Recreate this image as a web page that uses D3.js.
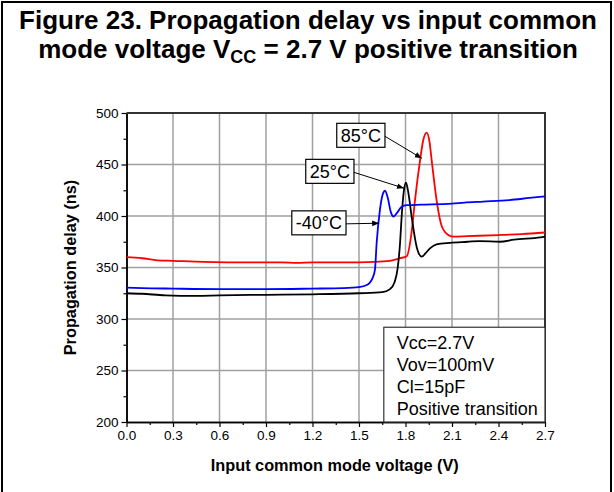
<!DOCTYPE html>
<html>
<head>
<meta charset="utf-8">
<script src="https://cdn.jsdelivr.net/npm/d3@7"></script>
<style>
  body { margin: 0; background: #fff; }
  text { font-family: "Liberation Sans", Arial, sans-serif; }
</style>
</head>
<body>
<svg id="chart" width="614" height="492"></svg>
<script>
// curves: [input common mode voltage (V), propagation delay (ns)]
const red85 = [
  [0.0, 360], [0.1, 359], [0.2, 357], [0.3, 356.5], [0.5, 355.5], [0.8, 355], [1.0, 355],
  [1.1, 354.5], [1.2, 355], [1.4, 355], [1.6, 355.5], [1.7, 356.5], [1.765, 359],
  [1.808, 361], [1.84, 385], [1.861, 415], [1.894, 454], [1.915, 474], [1.937, 481],
  [1.955, 472], [1.969, 454], [2.001, 415], [2.034, 390], [2.076, 381.5], [2.106, 380],
  [2.2, 380.5], [2.4, 381.5], [2.55, 382.5], [2.7, 384]
];
const blue40 = [
  [0.0, 330.5], [0.1, 330], [0.3, 329.5], [0.6, 329], [0.9, 329], [1.2, 329.5], [1.4, 330],
  [1.5, 331], [1.55, 333], [1.588, 340], [1.603, 348], [1.614, 374], [1.635, 406],
  [1.655, 422], [1.668, 424.5], [1.685, 418], [1.705, 404], [1.722, 399.5], [1.745, 403],
  [1.775, 409], [1.808, 410.5], [1.9, 411], [2.1, 412], [2.18, 413], [2.3, 414],
  [2.47, 415.5], [2.6, 417.5], [2.7, 419]
];
const black25 = [
  [0.0, 325], [0.1, 324.5], [0.25, 323], [0.45, 322.5], [0.6, 323], [0.9, 323.5],
  [1.2, 324], [1.5, 325], [1.65, 326], [1.7, 329], [1.73, 336], [1.75, 350], [1.765, 374],
  [1.775, 399], [1.79, 425], [1.803, 432.5], [1.82, 421], [1.84, 399], [1.872, 370],
  [1.905, 360.5], [1.93, 364], [1.958, 368.6], [2.0, 372.5], [2.087, 374], [2.2, 375],
  [2.28, 375.7], [2.41, 375], [2.5, 377], [2.67, 379.3], [2.7, 380]
];

const series = [
  {name: "85°C", values: red85, color: "#ff0000"},
  {name: "25°C", values: black25, color: "#000000"},
  {name: "-40°C", values: blue40, color: "#0000ff"}
];

// callout labels: box anchor in data units, arrow tip in data units
const callouts = [
  {text: "85°C", box: [1.35, 490], tip: [1.905, 456]},
  {text: "25°C", box: [1.15, 455], tip: [1.79, 427]},
  {text: "-40°C", box: [1.06, 405], tip: [1.63, 393]}
];

const conditions = ["Vcc=2.7V", "Vov=100mV", "Cl=15pF", "Positive transition"];

const xTicks = d3.range(0, 2.71, 0.3);
const yTicks = d3.range(200, 501, 50);

const svg = d3.select("#chart");
const margin = {top: 113, right: 69, bottom: 70, left: 126.5};
const W = 614, H = 492;
const width = W - margin.left - margin.right,
      height = H - margin.top - margin.bottom;

// figure frame
svg.append("path")
  .attr("d", `M2,${H + 2} V2 H611 V${H + 2}`)
  .attr("fill", "none").attr("stroke", "#000").attr("stroke-width", 2);

// title
const title = svg.append("g").attr("font-weight", "bold").attr("font-size", 26)
  .attr("text-anchor", "middle");
title.append("text").attr("x", 308).attr("y", 29)
  .text("Figure 23. Propagation delay vs input common");
const t2 = title.append("text").attr("x", 308).attr("y", 58);
t2.append("tspan").text("mode voltage V");
t2.append("tspan").attr("font-size", 18).attr("dy", 5).text("CC");
t2.append("tspan").attr("dy", -5).text(" = 2.7 V positive transition");

const x = d3.scaleLinear().domain([0, 2.7]).range([0, width]);
const y = d3.scaleLinear().domain([200, 500]).range([height, 0]);

const g = svg.append("g").attr("transform", `translate(${margin.left},${margin.top})`);

// grid
g.append("g").selectAll("line").data(xTicks.slice(1, -1)).join("line")
  .attr("x1", d => x(d)).attr("x2", d => x(d)).attr("y1", 0).attr("y2", height)
  .attr("stroke", "#a0a0a0").attr("stroke-width", 1.5);
g.append("g").selectAll("line").data(yTicks.slice(1, -1)).join("line")
  .attr("y1", d => y(d)).attr("y2", d => y(d)).attr("x1", 0).attr("x2", width)
  .attr("stroke", "#a0a0a0").attr("stroke-width", 1.5);

// axes
const xAxis = d3.axisBottom(x).tickValues(xTicks).tickFormat(d3.format(".1f"))
  .tickSize(5).tickSizeOuter(0).tickPadding(3);
const xMinor = d3.axisBottom(x).tickValues(d3.range(0.15, 2.7, 0.3)).tickSize(3)
  .tickFormat("").tickSizeOuter(0);
const yAxis = d3.axisLeft(y).tickValues(yTicks).tickSize(5).tickSizeOuter(0).tickPadding(3);
const yMinor = d3.axisLeft(y).tickValues(d3.range(225, 500, 50)).tickSize(3)
  .tickFormat("").tickSizeOuter(0);

function styleAxis(sel) {
  sel.select(".domain").attr("stroke", "#000").attr("stroke-width", 1.5);
  sel.selectAll(".tick line").attr("stroke", "#000").attr("stroke-width", 1.2);
  sel.selectAll("text").attr("font-size", 13.5).attr("fill", "#000")
    .attr("font-family", "Liberation Sans, Arial, sans-serif");
}
g.append("g").attr("transform", `translate(0,${height})`).call(xMinor).call(styleAxis);
g.append("g").attr("transform", `translate(0,${height})`).call(xAxis).call(styleAxis);
g.append("g").call(yMinor).call(styleAxis);
g.append("g").call(yAxis).call(styleAxis);

// top/right frame
g.append("path").attr("d", `M0,0 H${width} V${height}`)
  .attr("fill", "none").attr("stroke", "#333").attr("stroke-width", 2);

// curves
const line = d3.line().x(d => x(d[0])).y(d => y(d[1])).curve(d3.curveMonotoneX);
g.append("g").selectAll("path").data(series).join("path")
  .attr("d", d => line(d.values))
  .attr("fill", "none").attr("stroke", d => d.color).attr("stroke-width", 1.8);

// arrow marker
svg.append("defs").append("marker").attr("id", "arr")
  .attr("viewBox", "0 0 10 10").attr("refX", 10).attr("refY", 5)
  .attr("markerWidth", 7).attr("markerHeight", 7).attr("orient", "auto")
  .append("path").attr("d", "M0,1 L10,5 L0,9 z").attr("fill", "#000");

// callouts
callouts.forEach(c => {
  const cg = g.append("g");
  const tx = cg.append("text").attr("x", x(c.box[0]) + 5).attr("y", y(c.box[1]) + 18.5)
    .attr("font-size", 18).text(c.text);
  const bb = tx.node().getBBox();
  const bx = bb.x - 4, bw = bb.width + 8, by = y(c.box[1]), bh = 24;
  cg.insert("rect", "text").attr("x", bx).attr("y", by).attr("width", bw).attr("height", bh)
    .attr("fill", "#fff").attr("stroke", "#000").attr("stroke-width", 1.2);
  cg.append("line").attr("x1", bx + bw).attr("y1", by + bh / 2 + 1)
    .attr("x2", x(c.tip[0])).attr("y2", y(c.tip[1]))
    .attr("stroke", "#000").attr("stroke-width", 1).attr("marker-end", "url(#arr)");
});

// conditions box
const lx = x(1.66);
const lg = g.append("g");
lg.append("rect").attr("x", lx).attr("y", y(292)).attr("width", width - lx)
  .attr("height", height - y(292)).attr("fill", "#fff").attr("stroke", "#333").attr("stroke-width", 1.2);
lg.selectAll("text").data(conditions).join("text")
  .attr("x", lx + 13).attr("y", (d, i) => y(292) + 21.5 + i * 22)
  .attr("font-size", 18).text(d => d);

// axis titles
svg.append("text").attr("x", margin.left + width / 2 - 1).attr("y", 471)
  .attr("text-anchor", "middle").attr("font-weight", "bold").attr("font-size", 16.3)
  .text("Input common mode voltage (V)");
svg.append("text").attr("transform", `translate(76,${margin.top + height / 2}) rotate(-90)`)
  .attr("text-anchor", "middle").attr("font-weight", "bold").attr("font-size", 16.3)
  .text("Propagation delay (ns)");
</script>
</body>
</html>
